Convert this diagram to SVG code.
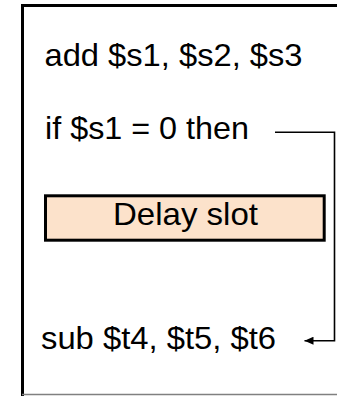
<svg xmlns="http://www.w3.org/2000/svg" width="337" height="396" viewBox="0 0 337 396">
<defs>
<style>
.t{font-family:"Liberation Sans",Arial,sans-serif;font-size:32px;fill:#000}
.frame{fill:none;stroke:#000;stroke-width:3}
.conn{fill:none;stroke:#000;stroke-width:1.6}
</style>
<marker id="arr" markerUnits="userSpaceOnUse" markerWidth="10" markerHeight="8" refX="9" refY="4" orient="auto">
<path d="M0,0 L9,4 L0,8 Z" fill="#000"/>
</marker>
</defs>
<rect width="337" height="396" fill="#fff"/>
<g id="frame">
<line x1="21" y1="5.5" x2="337" y2="5.5" class="frame"/>
<line x1="22.5" y1="4" x2="22.5" y2="396" class="frame"/>
<line x1="22" y1="394.5" x2="337" y2="394.5" stroke="#808080" stroke-width="1.5"/>
</g>
<g id="add">
<text class="t" x="44.5" y="65.5" textLength="258" lengthAdjust="spacingAndGlyphs">add $s1, $s2, $s3</text>
</g>
<g id="if">
<text class="t" x="45" y="139" textLength="204" lengthAdjust="spacingAndGlyphs">if $s1 = 0 then</text>
</g>
<g id="delay">
<rect x="45.5" y="195.8" width="278.7" height="44.4" fill="#FCE2CB" stroke="#000" stroke-width="3"/>
<text class="t" x="113" y="224.5" textLength="145" lengthAdjust="spacingAndGlyphs">Delay slot</text>
</g>
<g id="sub">
<text class="t" x="41" y="349" textLength="235" lengthAdjust="spacingAndGlyphs">sub $t4, $t5, $t6</text>
</g>
<g id="connectors">
<polyline class="conn" points="275,132.3 334.5,132.3 334.5,340.7 304.5,340.7" marker-end="url(#arr)"/>
</g>
</svg>
